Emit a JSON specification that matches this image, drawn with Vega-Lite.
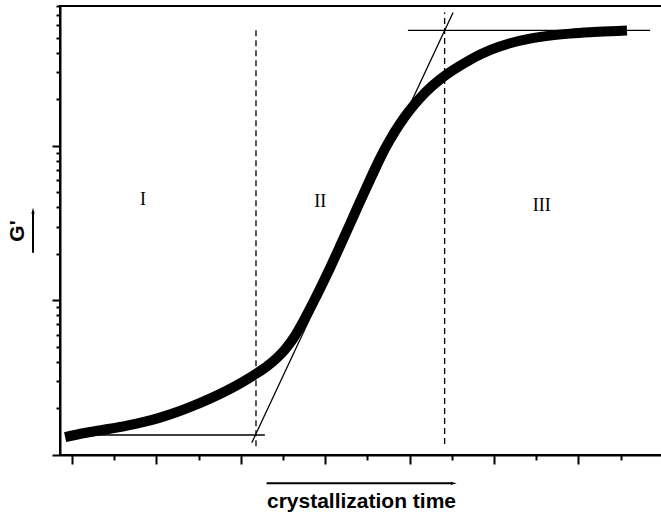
{
  "$schema": "https://vega.github.io/schema/vega-lite/v6.json",
  "width": 602,
  "height": 449,
  "autosize": {"type": "none"},
  "padding": {"left": 60, "top": 6, "right": 0, "bottom": 60},
  "background": "white",
  "config": {
    "view": {"stroke": "black", "strokeWidth": 2},
    "axis": {
      "grid": false,
      "labels": false,
      "domainColor": "black",
      "domainWidth": 2,
      "tickColor": "black",
      "tickWidth": 2,
      "titleColor": "black",
      "titleFont": "Liberation Sans",
      "titleFontWeight": "bold",
      "titleFontSize": 21
    }
  },
  "datasets": {
    "modulus": [
      {"t": -0.047, "g": 1.327}, {"t": 0.427, "g": 1.409}, {"t": 0.9, "g": 1.478},
      {"t": 1.303, "g": 1.548}, {"t": 1.73, "g": 1.643}, {"t": 2.085, "g": 1.744},
      {"t": 2.488, "g": 1.895}, {"t": 2.867, "g": 2.076}, {"t": 3.27, "g": 2.314},
      {"t": 3.673, "g": 2.611}, {"t": 4.028, "g": 2.947}, {"t": 4.384, "g": 3.38},
      {"t": 4.645, "g": 3.79}, {"t": 4.858, "g": 4.245}, {"t": 5.047, "g": 4.81},
      {"t": 5.237, "g": 5.634}, {"t": 5.474, "g": 7.258}, {"t": 5.711, "g": 9.634},
      {"t": 5.924, "g": 12.6}, {"t": 6.114, "g": 16.18}, {"t": 6.351, "g": 22.4},
      {"t": 6.588, "g": 31.18}, {"t": 6.777, "g": 40.71}, {"t": 6.991, "g": 54.84},
      {"t": 7.133, "g": 66.67}, {"t": 7.299, "g": 83.0}, {"t": 7.536, "g": 109.3},
      {"t": 7.773, "g": 138.8}, {"t": 8.009, "g": 170.5}, {"t": 8.246, "g": 203.3},
      {"t": 8.483, "g": 236.0}, {"t": 8.72, "g": 267.9}, {"t": 8.957, "g": 298.6},
      {"t": 9.194, "g": 328.5}, {"t": 9.55, "g": 374.0}, {"t": 9.905, "g": 415.0},
      {"t": 10.379, "g": 459.4}, {"t": 10.853, "g": 492.0}, {"t": 11.327, "g": 514.5},
      {"t": 11.801, "g": 530.1}, {"t": 12.275, "g": 541.3}, {"t": 12.749, "g": 549.4},
      {"t": 13.033, "g": 553.5}
    ],
    "tangents": [
      {"t": 0.05, "t2": 4.57, "g": 1.347, "g2": 1.347},
      {"t": 4.26, "t2": 9.03, "g": 1.2, "g2": 726},
      {"t": 7.96, "t2": 13.7, "g": 557, "g2": 557}
    ],
    "boundaries": [
      {"t": 4.36, "t2": 4.36, "g": 1.14, "g2": 580},
      {"t": 8.83, "t2": 8.83, "g": 1.18, "g2": 726}
    ],
    "regions": [
      {"t": 1.68, "g": 44.4, "label": "I"},
      {"t": 5.88, "g": 43.1, "label": "II"},
      {"t": 11.13, "g": 40.6, "label": "III"}
    ],
    "timeArrow": [{"t": 4.61, "t2": 9.0, "g": 0.656, "g2": 0.656, "tip": 9.045}],
    "modulusArrow": [{"t": -0.924, "t2": -0.924, "g": 20.3, "g2": 37.0, "tip": 37.96}]
  },
  "layer": [
    {
      "data": {"name": "modulus"},
      "mark": {"type": "line", "color": "black", "strokeWidth": 10, "strokeCap": "square", "strokeJoin": "round", "interpolate": "monotone"},
      "encoding": {
        "x": {
          "field": "t", "type": "quantitative",
          "scale": {"domain": [-0.2844, 13.981], "nice": false, "zero": false},
          "axis": {
            "title": "crystallization time",
            "values": [0, 1, 2, 3, 4, 5, 6, 7, 8, 9, 10, 11, 12, 13],
            "tickSize": {"condition": {"test": "datum.value % 2 == 0", "value": 9}, "value": 5},
            "titlePadding": 25
          }
        },
        "y": {
          "field": "g", "type": "quantitative",
          "scale": {"type": "log", "domain": [1, 800], "nice": false},
          "axis": {
            "title": "G'",
            "values": [1, 2, 3, 4, 5, 6, 7, 8, 9, 10, 20, 30, 40, 50, 60, 70, 80, 90, 100, 200, 300, 400, 500, 600, 700, 800],
            "tickSize": {"condition": {"test": "datum.value == 1 || datum.value == 10 || datum.value == 100", "value": 8}, "value": 4},
            "titlePadding": 24
          }
        }
      }
    },
    {
      "data": {"name": "tangents"},
      "mark": {"type": "rule", "color": "black", "strokeWidth": 1.3},
      "encoding": {
        "x": {"field": "t", "type": "quantitative"},
        "x2": {"field": "t2"},
        "y": {"field": "g", "type": "quantitative"},
        "y2": {"field": "g2"}
      }
    },
    {
      "data": {"name": "boundaries"},
      "mark": {"type": "rule", "color": "black", "strokeWidth": 1.3, "strokeDash": [6, 4]},
      "encoding": {
        "x": {"field": "t", "type": "quantitative"},
        "x2": {"field": "t2"},
        "y": {"field": "g", "type": "quantitative"},
        "y2": {"field": "g2"}
      }
    },
    {
      "data": {"name": "regions"},
      "mark": {"type": "text", "font": "Liberation Serif", "fontSize": 18, "color": "black", "align": "center", "baseline": "middle"},
      "encoding": {
        "x": {"field": "t", "type": "quantitative"},
        "y": {"field": "g", "type": "quantitative"},
        "text": {"field": "label"}
      }
    },
    {
      "data": {"name": "timeArrow"},
      "layer": [
        {
          "mark": {"type": "rule", "color": "black", "strokeWidth": 2},
          "encoding": {
            "x": {"field": "t", "type": "quantitative"},
            "x2": {"field": "t2"},
            "y": {"field": "g", "type": "quantitative"},
            "y2": {"field": "g2"}
          }
        },
        {
          "mark": {"type": "point", "shape": "M-1,-0.55L1,0L-1,0.55Z", "filled": true, "color": "black", "opacity": 1, "size": 36},
          "encoding": {
            "x": {"field": "tip", "type": "quantitative"},
            "y": {"field": "g", "type": "quantitative"}
          }
        }
      ]
    },
    {
      "data": {"name": "modulusArrow"},
      "layer": [
        {
          "mark": {"type": "rule", "color": "black", "strokeWidth": 2},
          "encoding": {
            "x": {"field": "t", "type": "quantitative"},
            "x2": {"field": "t2"},
            "y": {"field": "g", "type": "quantitative"},
            "y2": {"field": "g2"}
          }
        },
        {
          "mark": {"type": "point", "shape": "M-0.55,1L0,-1L0.55,1Z", "filled": true, "color": "black", "opacity": 1, "size": 36},
          "encoding": {
            "x": {"field": "t", "type": "quantitative"},
            "y": {"field": "tip", "type": "quantitative"}
          }
        }
      ]
    }
  ]
}
